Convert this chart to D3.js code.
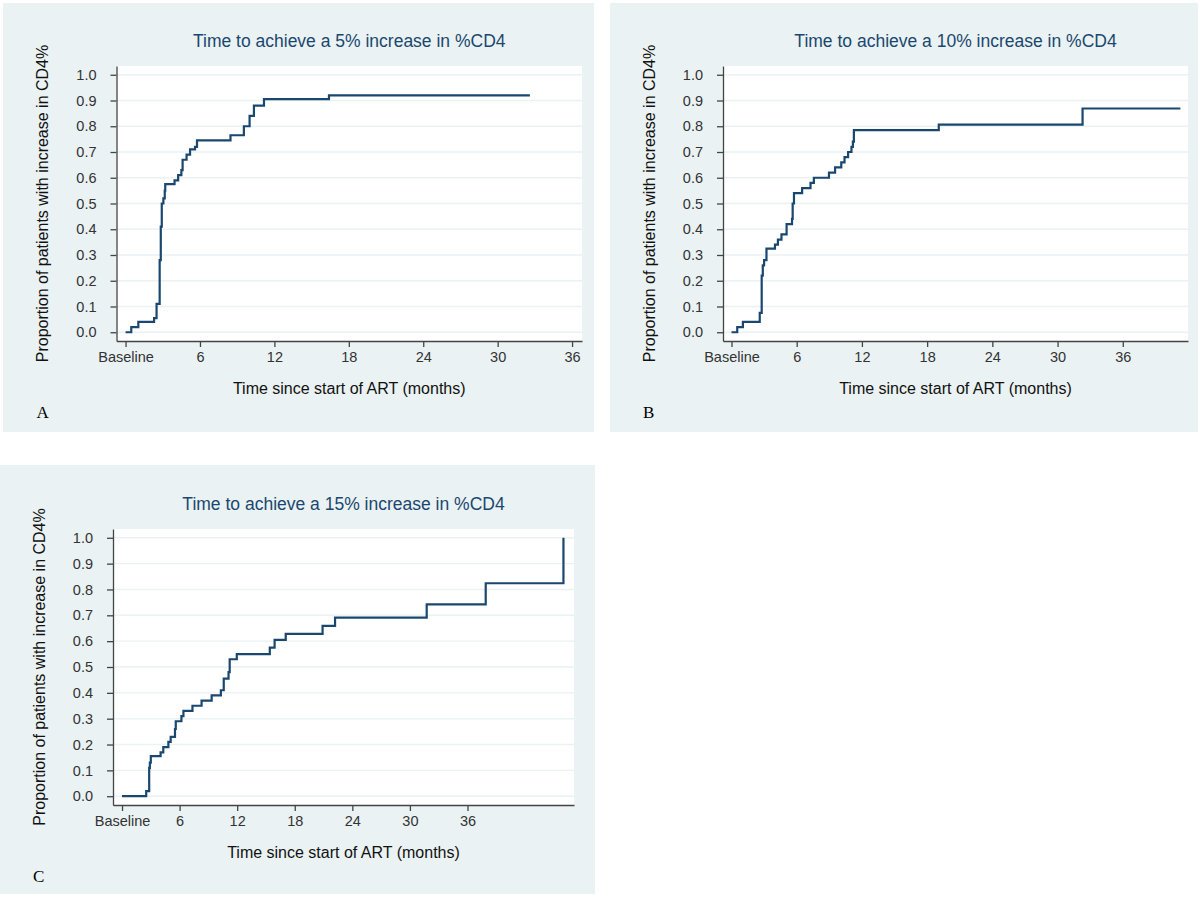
<!DOCTYPE html>
<html>
<head>
<meta charset="utf-8">
<style>
  body { margin: 0; background: #fff; }
  svg { display: block; font-family: "Liberation Sans", Arial, sans-serif; }
  .tick text { fill: #333; font-size: 14.5px; }
  .axis path, .axis line { stroke: #444; stroke-width: 1.3; }
  .title { fill: #1a476f; font-size: 17.5px; }
  .alabel { fill: #111; font-size: 16px; }
  .letter { font-family: "Liberation Serif", "Times New Roman", serif; font-size: 17px; fill: #000; }
</style>
</head>
<body>
<script src="https://d3js.org/d3.v7.min.js"></script>
<script>

// months since start of ART / cumulative proportion reaching the increase
var timesA = [0, 0.46, 1.03, 2.3, 2.5, 2.75, 2.84, 2.92, 3.05, 3.16, 3.2, 3.95, 4.24, 4.5, 4.6, 4.92, 5.2, 5.6, 5.76, 8.46, 9.54, 10.0, 10.35, 11.16, 16.4, 32.6];
var propA  = [0, 0.02, 0.04, 0.055, 0.11, 0.28, 0.41, 0.5, 0.52, 0.55, 0.575, 0.59, 0.61, 0.63, 0.67, 0.69, 0.71, 0.72, 0.745, 0.765, 0.80, 0.84, 0.88, 0.905, 0.92, 0.92];

var timesB = [0, 0.53, 1.05, 2.6, 2.78, 2.88, 3.0, 3.22, 4.0, 4.27, 4.6, 5.07, 5.57, 5.63, 5.75, 6.5, 7.27, 7.58, 8.97, 9.53, 10.1, 10.4, 10.73, 11.04, 11.17, 11.26, 19.07, 32.3, 41.3];
var propB  = [0, 0.02, 0.04, 0.075, 0.22, 0.26, 0.28, 0.325, 0.34, 0.36, 0.38, 0.42, 0.44, 0.50, 0.54, 0.56, 0.58, 0.60, 0.62, 0.64, 0.66, 0.68, 0.70, 0.72, 0.74, 0.785, 0.806, 0.869, 0.869];

var timesC = [0, 2.52, 2.83, 2.9, 3.0, 4.02, 4.3, 4.83, 5.07, 5.52, 5.6, 6.19, 6.4, 7.34, 8.29, 9.34, 10.3, 10.6, 11.1, 11.22, 11.96, 15.4, 15.9, 17.06, 20.9, 22.2, 31.75, 37.9, 46.0];
var propC  = [0, 0.02, 0.11, 0.13, 0.155, 0.17, 0.19, 0.21, 0.23, 0.26, 0.29, 0.31, 0.33, 0.35, 0.37, 0.39, 0.41, 0.455, 0.48, 0.53, 0.55, 0.575, 0.605, 0.628, 0.659, 0.691, 0.742, 0.824, 1.0];

var titles = ["Time to achieve a 5% increase in %CD4", "Time to achieve a 10% increase in %CD4", "Time to achieve a 15% increase in %CD4"];
var letters = ["A", "B", "C"];
var xTicks = [0, 6, 12, 18, 24, 30, 36];
var yTicks = [0, 0.1, 0.2, 0.3, 0.4, 0.5, 0.6, 0.7, 0.8, 0.9, 1.0];
var xLabel = "Time since start of ART (months)";
var yLabel = "Proportion of patients with increase in CD4%";

var panels = [
  { bg: [3, 3, 591, 429], left: 116.5, right: 582, top: 66, bottom: 341, xmin: -0.73, xmax: 36.8, times: timesA, prop: propA },
  { bg: [610, 3, 588, 429], left: 723, right: 1188, top: 66, bottom: 341, xmin: -0.78, xmax: 42.0, times: timesB, prop: propB },
  { bg: [0, 465, 595, 429], left: 113, right: 574, top: 529, bottom: 805, xmin: -0.94, xmax: 47.1, times: timesC, prop: propC }
];

var svg = d3.select("body").append("svg")
    .attr("width", 1200)
    .attr("height", 898);

panels.forEach(function(p, i) {
  var w = p.right - p.left, h = p.bottom - p.top;

  svg.append("rect")
      .attr("x", p.bg[0]).attr("y", p.bg[1])
      .attr("width", p.bg[2]).attr("height", p.bg[3])
      .attr("fill", "#eaf2f3");

  var g = svg.append("g")
      .attr("transform", "translate(" + p.left + "," + p.top + ")");

  var x = d3.scaleLinear().domain([p.xmin, p.xmax]).range([0, w]);
  var y = d3.scaleLinear().domain([-0.034, 1.034]).range([h, 0]);

  g.append("rect").attr("width", w).attr("height", h).attr("fill", "#fff");

  // grid
  g.selectAll(".grid")
      .data(yTicks)
      .enter().append("line")
      .attr("x1", 0).attr("x2", w)
      .attr("y1", function(d) { return y(d); })
      .attr("y2", function(d) { return y(d); })
      .attr("stroke", "#eaf2f3")
      .attr("stroke-width", 1.4);

  g.append("g")
      .attr("class", "axis")
      .attr("transform", "translate(0," + h + ")")
      .call(d3.axisBottom(x).tickValues(xTicks).tickSize(6).tickSizeOuter(0).tickPadding(5)
        .tickFormat(function(d) { return d === 0 ? "Baseline" : d; }));

  g.append("g")
      .attr("class", "axis")
      .call(d3.axisLeft(y).tickValues(yTicks).tickSize(6).tickSizeOuter(0).tickPadding(14)
        .tickFormat(d3.format(".1f")));

  var pts = p.times.map(function(t, k) { return [t, p.prop[k]]; });
  var line = d3.line()
      .x(function(d) { return x(d[0]); })
      .y(function(d) { return y(d[1]); })
      .curve(d3.curveStepAfter);

  g.append("path")
      .datum(pts)
      .attr("d", line)
      .attr("fill", "none")
      .attr("stroke", "#1a476f")
      .attr("stroke-width", 2.2);

  svg.append("text")
      .attr("class", "title")
      .attr("x", p.left + w / 2)
      .attr("y", p.top - 25)
      .attr("dy", "0.35em")
      .attr("text-anchor", "middle")
      .text(titles[i]);

  svg.append("text")
      .attr("class", "alabel")
      .attr("x", p.left + w / 2)
      .attr("y", p.bottom + 47)
      .attr("dy", "0.35em")
      .attr("text-anchor", "middle")
      .text(xLabel);

  svg.append("text")
      .attr("class", "alabel")
      .attr("transform", "translate(" + (p.left - 74) + "," + (p.top + h / 2) + ") rotate(-90)")
      .attr("dy", "0.35em")
      .attr("text-anchor", "middle")
      .text(yLabel);

  svg.append("text")
      .attr("class", "letter")
      .attr("x", p.left - 80)
      .attr("y", p.bottom + 77)
      .text(letters[i]);
});

</script>
</body>
</html>
